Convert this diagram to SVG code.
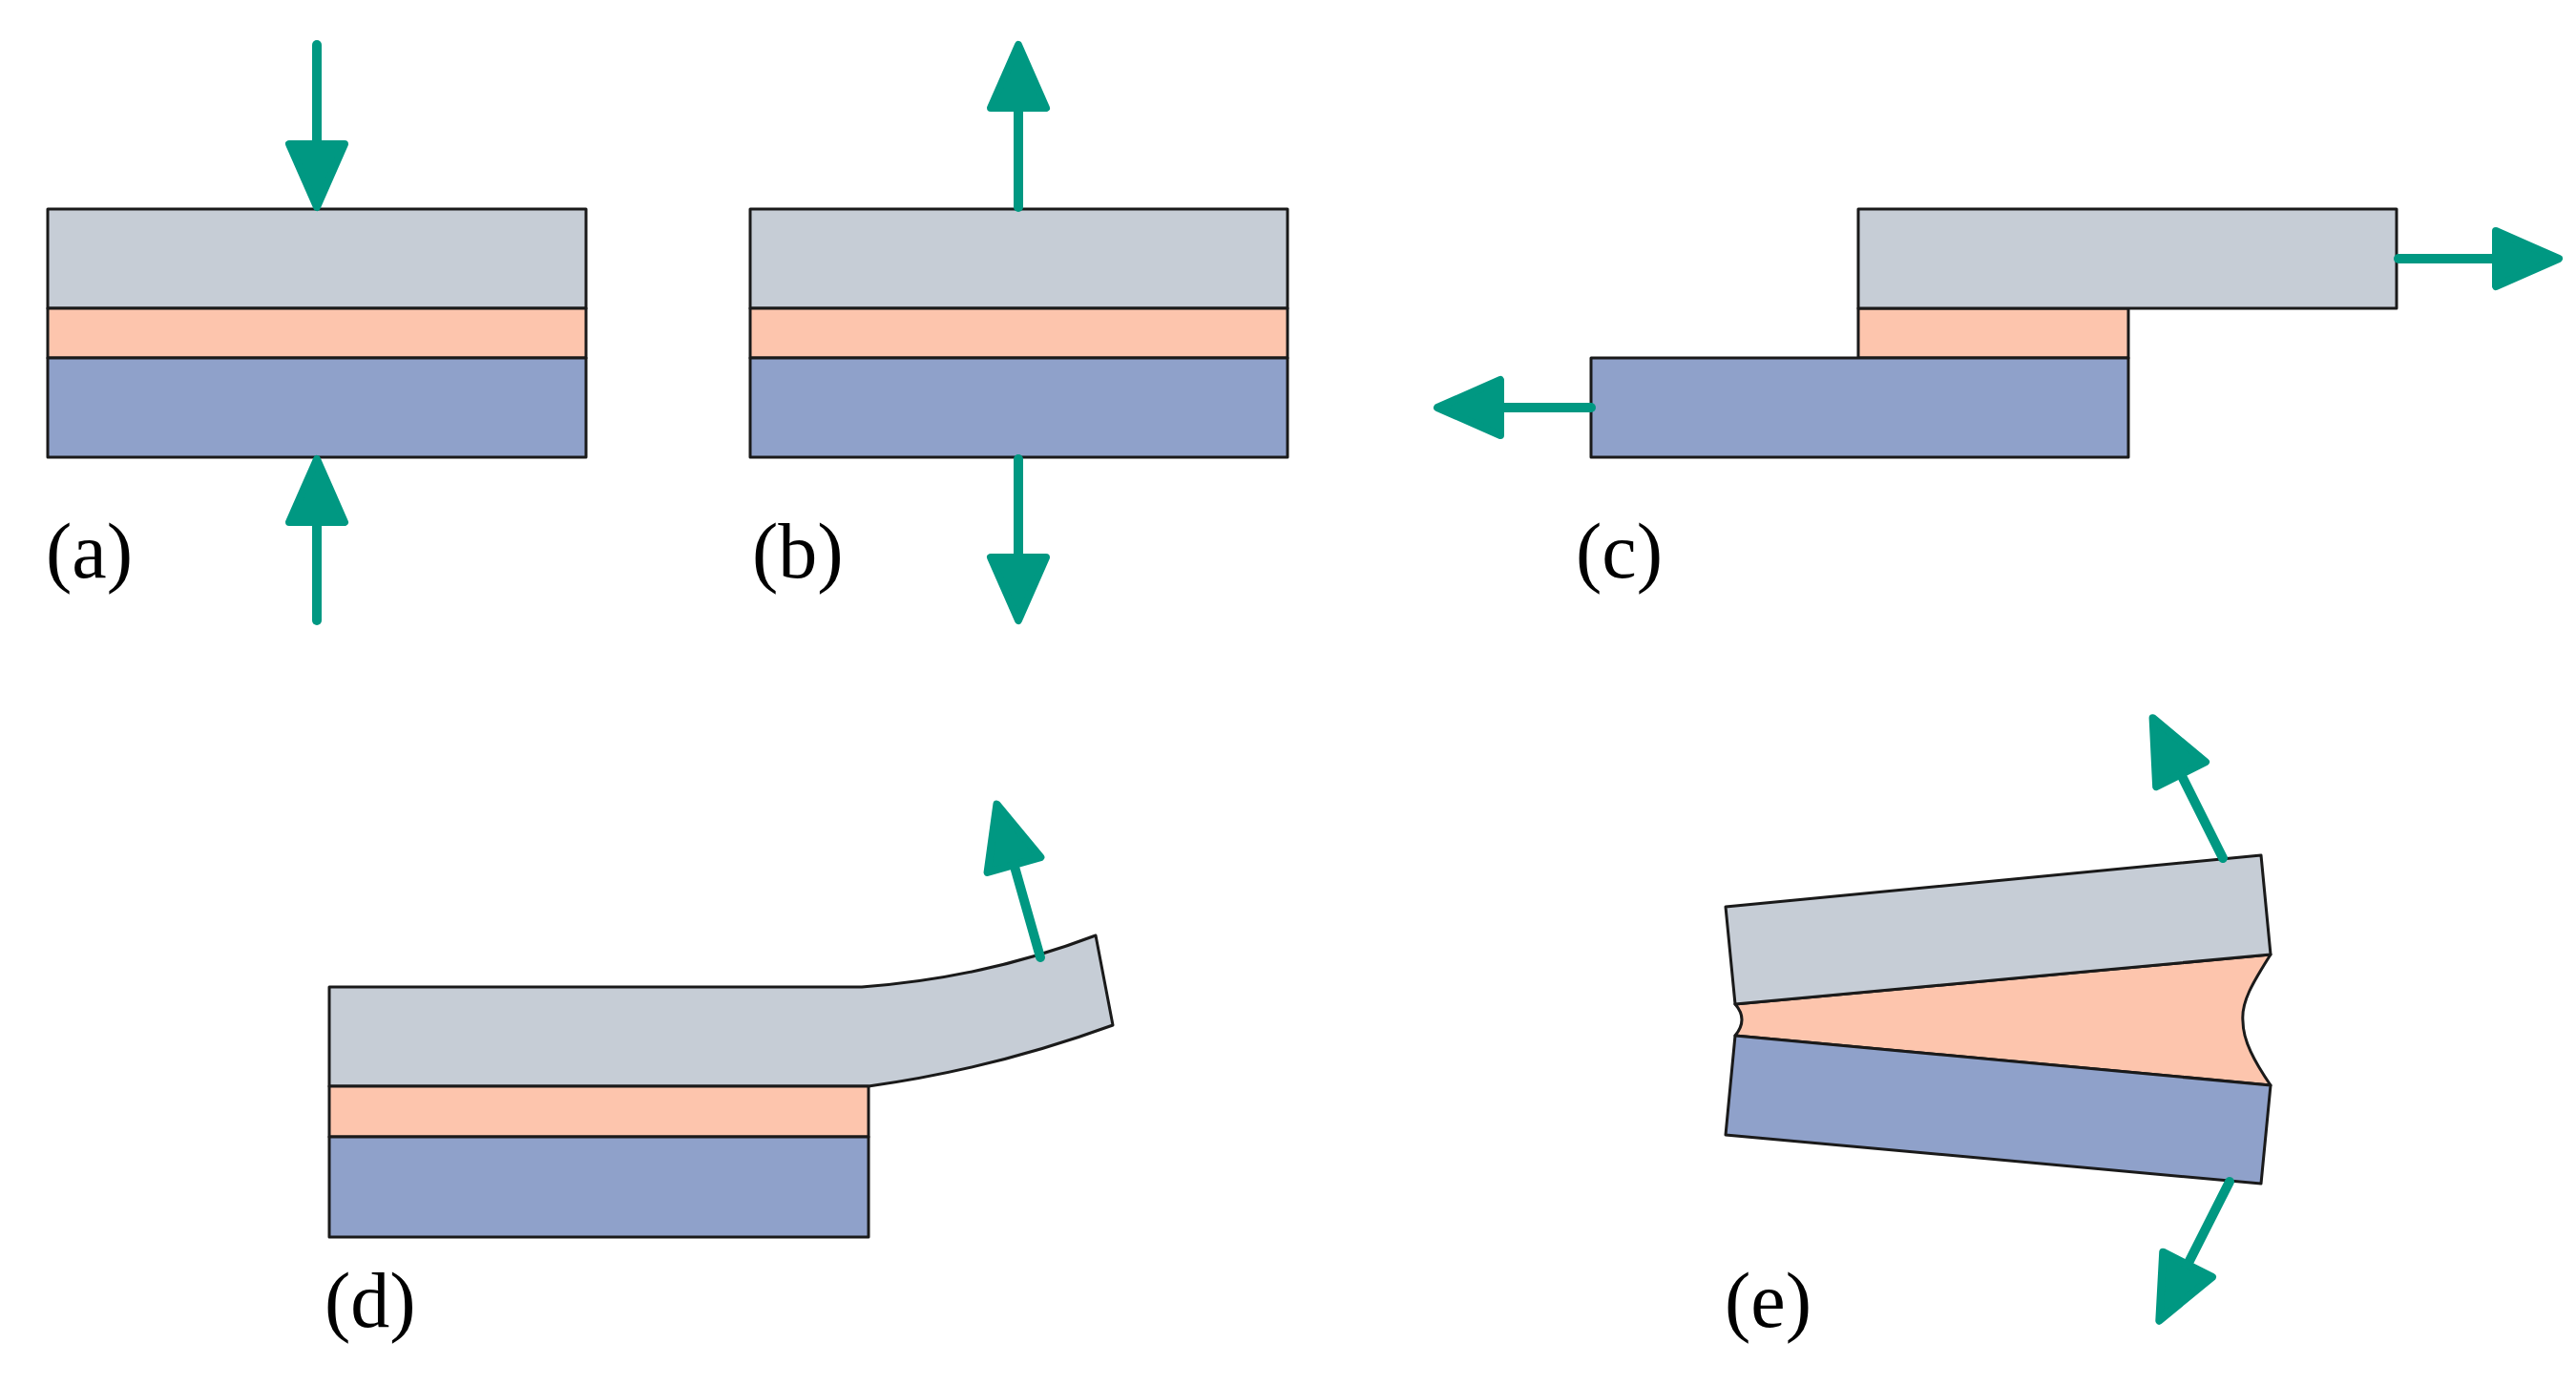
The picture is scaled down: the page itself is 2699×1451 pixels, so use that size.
<svg xmlns="http://www.w3.org/2000/svg" width="2699" height="1451" viewBox="0 0 2699 1451">
<style>
.g{fill:#c6cdd6;stroke:#1a1a1a;stroke-width:3;stroke-linejoin:round}
.o{fill:#fdc5ad;stroke:#1a1a1a;stroke-width:3;stroke-linejoin:round}
.b{fill:#8fa1ca;stroke:#1a1a1a;stroke-width:3;stroke-linejoin:round}
.ar{stroke:#009882;stroke-width:10;fill:none;stroke-linecap:round;marker-end:url(#ah)}
.lb{font-family:"Liberation Serif",serif;font-size:82px;fill:#000}
</style>
<defs>
<marker id="ah" markerUnits="userSpaceOnUse" markerWidth="100" markerHeight="90" viewBox="-5 -45 100 90" refX="0" refY="0" orient="auto">
<path d="M2,-29 L68,0 L2,29 Z" fill="#009882" stroke="#009882" stroke-width="8" stroke-linejoin="round"/>
</marker>
</defs>
<rect width="2699" height="1451" fill="#fff"/>
<g id="panel-a">
<rect class="g" x="50" y="219" width="564" height="104"/>
<rect class="o" x="50" y="323" width="564" height="52"/>
<rect class="b" x="50" y="375" width="564" height="104"/>
<text class="lb" x="48" y="605">(a)</text>
</g>
<g id="panel-b">
<rect class="g" x="786" y="219" width="563" height="104"/>
<rect class="o" x="786" y="323" width="563" height="52"/>
<rect class="b" x="786" y="375" width="563" height="104"/>
<text class="lb" x="788" y="605">(b)</text>
</g>
<g id="panel-c">
<rect class="o" x="1947" y="323" width="283" height="52"/>
<rect class="g" x="1947" y="219" width="564" height="104"/>
<rect class="b" x="1667" y="375" width="563" height="104"/>
<text class="lb" x="1651" y="605">(c)</text>
</g>
<g id="panel-d">
<path class="g" d="M345,1034 L903,1034 Q1030,1025 1148,980 L1166,1074 Q1040,1120 910,1138 L345,1138 Z"/>
<rect class="o" x="345" y="1138" width="565" height="53"/>
<rect class="b" x="345" y="1191" width="565" height="105"/>
<text class="lb" x="340" y="1390">(d)</text>
</g>
<g id="panel-e">
<path class="o" d="M1818,1052 L2379,1000 C2360,1030 2348,1050 2350,1070 C2350,1090 2362,1112 2379,1137 L1818,1085 Q1832,1068 1818,1052 Z"/>
<path class="g" d="M1808,950 L2369,896 L2379,1000 L1818,1052 Z"/>
<path class="b" d="M1818,1085 L2379,1137 L2369,1240 L1808,1189 Z"/>
<text class="lb" x="1807" y="1390">(e)</text>
</g>
<g id="connectors">
<line class="ar" x1="332" y1="47" x2="332" y2="149"/>
<line class="ar" x1="332" y1="650" x2="332" y2="549"/>
<line class="ar" x1="1067" y1="217" x2="1067" y2="115"/>
<line class="ar" x1="1067" y1="481" x2="1067" y2="582"/>
<line class="ar" x1="2513" y1="271" x2="2613" y2="271"/>
<line class="ar" x1="1667" y1="427" x2="1574" y2="427"/>
<line class="ar" x1="1090" y1="1003" x2="1063" y2="908"/>
<line class="ar" x1="2329" y1="899" x2="2286" y2="813"/>
<line class="ar" x1="2336" y1="1238" x2="2293" y2="1323"/>
</g>
</svg>
